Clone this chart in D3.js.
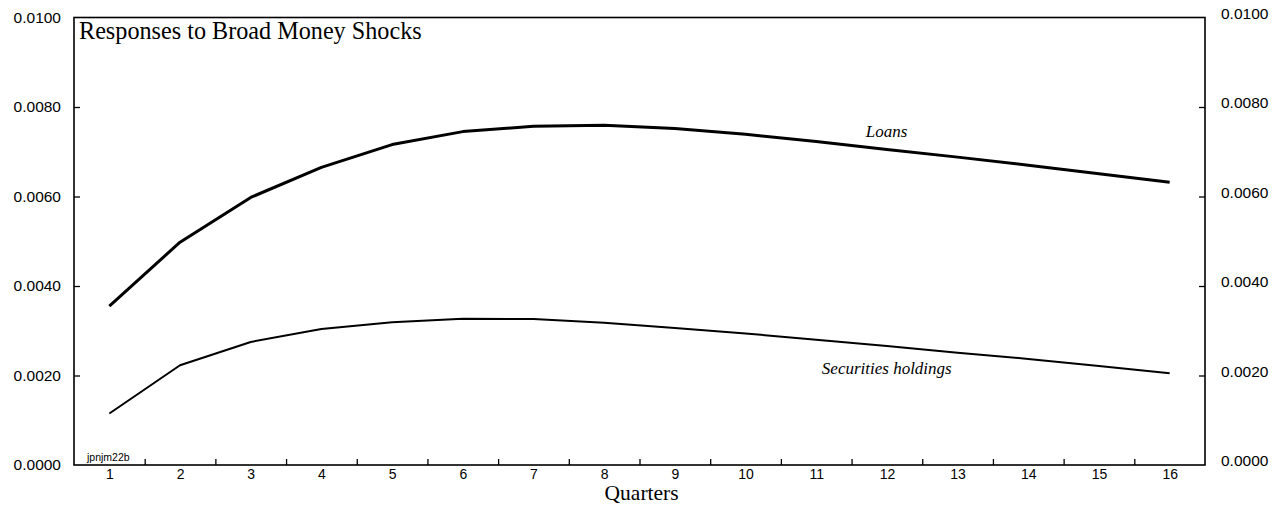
<!DOCTYPE html>
<html>
<head>
<meta charset="utf-8">
<script src="https://cdn.jsdelivr.net/npm/d3@7/dist/d3.min.js"></script>
<style>
  html, body { margin: 0; padding: 0; background: #fff; }
  svg { display: block; }
</style>
</head>
<body>
<script>
// ---- data ----
const quarters = [1,2,3,4,5,6,7,8,9,10,11,12,13,14,15,16];
const loans = [0.00355,0.00498,0.00598,0.00665,0.00716,0.00745,0.00757,0.00759,0.00752,0.00739,0.00723,0.00705,0.00688,0.00670,0.00651,0.00632];
const securities = [0.00115,0.00223,0.00275,0.00304,0.00319,0.00327,0.00326,0.00318,0.00306,0.00294,0.00280,0.00266,0.00251,0.00237,0.00221,0.00205];
const yTicks = [0, 0.002, 0.004, 0.006, 0.008, 0.010];
const chartTitle = "Responses to Broad Money Shocks";
const xTitle = "Quarters";
const seriesLabels = ["Loans", "Securities holdings"];
const codeLabel = "jpnjm22b";

// ---- layout ----
const W = 1282, H = 508;
const mLeft = 74, mRight = 1205, mTop = 17.5, mBottom = 465;

const svg = d3.select("body").append("svg").attr("width", W).attr("height", H);

const x = d3.scaleLinear().domain([0.5, 16.5]).range([mLeft, mRight]);
const y = d3.scaleLinear().domain([0, 0.01]).range([mBottom, mTop]);

// frame
svg.append("rect")
  .attr("x", mLeft).attr("y", mTop)
  .attr("width", mRight - mLeft).attr("height", mBottom - mTop)
  .attr("fill", "none").attr("stroke", "#000").attr("stroke-width", 1.6);

// x ticks at half positions (inside)
const halfTicks = d3.range(1.5, 16.5, 1);
const xAxis = d3.axisBottom(x).tickValues(halfTicks).tickSize(-6).tickFormat("");
const gx = svg.append("g").attr("transform", `translate(0,${mBottom})`).call(xAxis);
gx.select(".domain").remove();
gx.selectAll("line").attr("stroke", "#000").attr("stroke-width", 1.3);

// x labels
const xLab = d3.axisBottom(x).tickValues(quarters).tickSize(0).tickPadding(4).tickFormat(d3.format("d"));
const gxl = svg.append("g").attr("transform", `translate(0,${mBottom})`).call(xLab);
gxl.select(".domain").remove();
gxl.selectAll("text").attr("font-family", "Liberation Sans, Arial, sans-serif")
  .attr("font-size", "14px").attr("fill", "#000");

// left y axis
const fmt = d3.format(".4f");
const yInner = yTicks.filter(d => d > 0 && d < 0.01);
const gyl = svg.append("g").attr("transform", `translate(${mLeft},0)`)
  .call(d3.axisRight(y).tickValues(yInner).tickSize(6).tickFormat(""));
gyl.select(".domain").remove();
gyl.selectAll("line").attr("stroke", "#000").attr("stroke-width", 1.3);
const gyl2 = svg.append("g").attr("transform", `translate(${mLeft},0)`)
  .call(d3.axisLeft(y).tickValues(yTicks).tickSize(0).tickPadding(13).tickFormat(fmt));
gyl2.select(".domain").remove();
gyl2.selectAll("text").attr("font-family", "Liberation Sans, Arial, sans-serif")
  .attr("font-size", "15.5px").attr("fill", "#000");

// right y axis
const gyr = svg.append("g").attr("transform", `translate(${mRight},0)`)
  .call(d3.axisLeft(y).tickValues(yInner).tickSize(6).tickFormat(""));
gyr.select(".domain").remove();
gyr.selectAll("line").attr("stroke", "#000").attr("stroke-width", 1.3);
const gyr2 = svg.append("g").attr("transform", `translate(${mRight},-4)`)
  .call(d3.axisRight(y).tickValues(yTicks).tickSize(0).tickPadding(16).tickFormat(fmt));
gyr2.select(".domain").remove();
gyr2.selectAll("text").attr("font-family", "Liberation Sans, Arial, sans-serif")
  .attr("font-size", "15.5px").attr("fill", "#000");

// lines
const line = d3.line().x((d, i) => x(quarters[i])).y(d => y(d));
svg.append("path").datum(loans).attr("d", line)
  .attr("fill", "none").attr("stroke", "#000").attr("stroke-width", 3).attr("stroke-linejoin", "round");
svg.append("path").datum(securities).attr("d", line)
  .attr("fill", "none").attr("stroke", "#000").attr("stroke-width", 2).attr("stroke-linejoin", "round");

// title
svg.append("text").attr("x", mLeft + 5).attr("y", 39)
  .attr("font-family", "Liberation Serif, Times New Roman, serif")
  .attr("font-size", "24.2px").attr("fill", "#000").text(chartTitle);

// axis title
svg.append("text").attr("x", x(8.53)).attr("y", 500).attr("text-anchor", "middle")
  .attr("font-family", "Liberation Serif, Times New Roman, serif")
  .attr("font-size", "21.5px").attr("fill", "#000").text(xTitle);

// series labels
svg.append("text").attr("x", x(11.7)).attr("y", y(0.00731) - 1)
  .attr("font-family", "Liberation Serif, Times New Roman, serif").attr("font-style", "italic")
  .attr("font-size", "17px").attr("fill", "#000").text(seriesLabels[0]);
svg.append("text").attr("x", x(11.08)).attr("y", y(0.00205) + 1)
  .attr("font-family", "Liberation Serif, Times New Roman, serif").attr("font-style", "italic")
  .attr("font-size", "17px").attr("fill", "#000").text(seriesLabels[1]);

// code label
svg.append("text").attr("x", mLeft + 13).attr("y", mBottom - 4)
  .attr("font-family", "Liberation Sans, Arial, sans-serif")
  .attr("font-size", "10.5px").attr("fill", "#000").text(codeLabel);
</script>
</body>
</html>
